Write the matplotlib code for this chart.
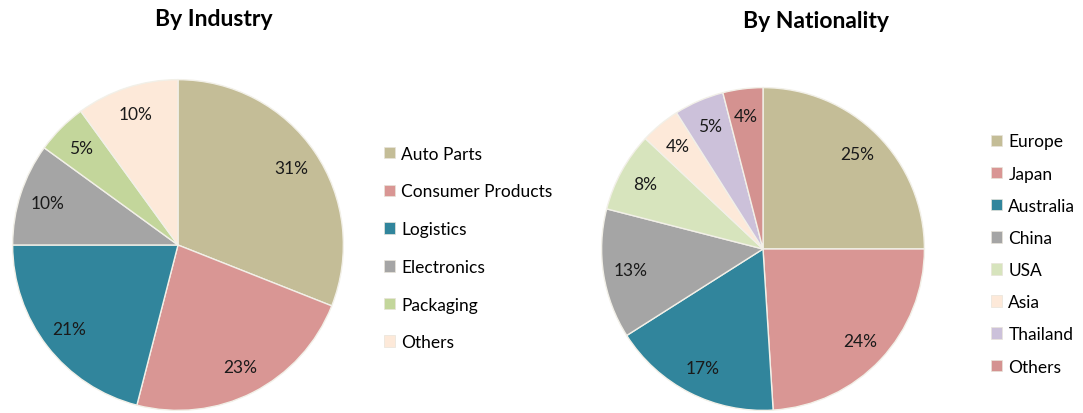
import matplotlib.pyplot as plt
from matplotlib.patches import Patch

plt.rcParams['font.family'] = ['Lato', 'DejaVu Sans']

# data
industry_labels = ['Auto Parts', 'Consumer Products', 'Logistics', 'Electronics', 'Packaging', 'Others']
industry_values = [31, 23, 21, 10, 5, 10]
industry_colors = ['#C4BD97', '#D99694', '#31859C', '#A5A5A5', '#C3D69B', '#FDE9D9']

nation_labels = ['Europe', 'Japan', 'Australia', 'China', 'USA', 'Asia', 'Thailand', 'Others']
nation_values = [25, 24, 17, 13, 8, 4, 5, 4]
nation_colors = ['#C4BD97', '#D99694', '#31859C', '#A5A5A5', '#D7E4BD', '#FDE9D9', '#CCC1DA', '#D49290']

fig = plt.figure(figsize=(10.83, 4.14), dpi=100)

def draw_pie(rect, values, colors, title, title_xy):
    ax = fig.add_axes(rect)
    ax.pie(values, colors=colors, startangle=90, counterclock=False,
           autopct='%d%%', pctdistance=0.83,
           wedgeprops=dict(edgecolor='#F2F0E8', linewidth=1),
           textprops=dict(fontsize=12.5, color='#1a1a1a'))
    ax.set_xlim(-1.01, 1.01)
    ax.set_ylim(-1.01, 1.01)
    ax.set_aspect('equal')
    ax.axis('off')
    fig.text(title_xy[0], title_xy[1], title, ha='center', va='center',
             fontsize=16.5, fontweight='bold')
    return ax

draw_pie([11/1083, 1/414, 334/1083, 334/414], industry_values, industry_colors,
         'By Industry', (214/1083, 1 - 20/414))
draw_pie([600/1083, 1/414, 326/1083, 326/414], nation_values, nation_colors,
         'By Nationality', (816/1083, 1 - 22/414))

def add_legend(labels, colors, anchor, spacing):
    handles = [Patch(facecolor=c, edgecolor='#E8E4DA', linewidth=0.5) for c in colors]
    fig.legend(handles, labels, loc='center left', bbox_to_anchor=anchor,
               frameon=False, fontsize=12.5, handlelength=0.65, handleheight=0.65,
               handletextpad=0.35, labelspacing=spacing, borderaxespad=0)

add_legend(industry_labels, industry_colors, (377/1083, 1 - 249/414), 1.25)
add_legend(nation_labels, nation_colors, (984/1083, 1 - 255/414), 0.93)

fig.savefig('out.png', dpi=100)
